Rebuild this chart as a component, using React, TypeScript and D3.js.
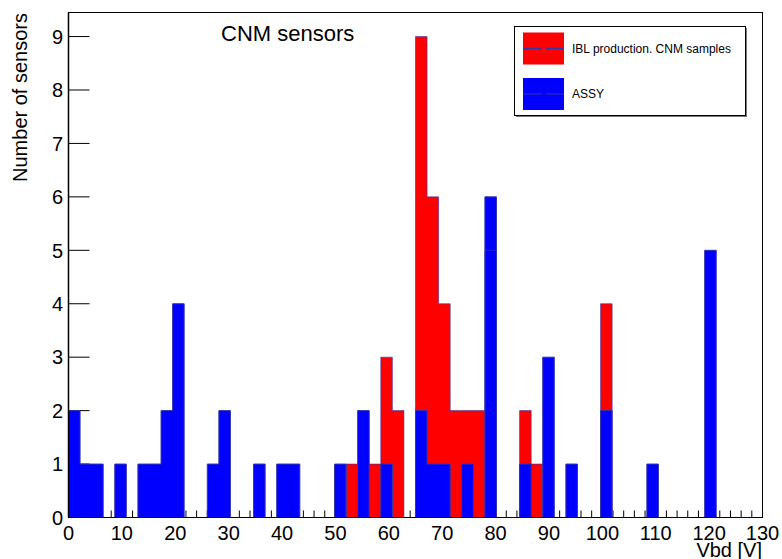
import React from "react";
import * as d3 from "d3";

// Histogram definition: 60 bins from 0 to 130 V
const xMin = 0;
const xMax = 130;
const nBins = 60;

// ASSY (blue) counts per bin
const assyCounts = [
  2, 1, 1, 0, 1, 0, 1, 1, 2, 4,
  0, 0, 1, 2, 0, 0, 1, 0, 1, 1,
  0, 0, 0, 1, 0, 2, 0, 1, 0, 0,
  2, 1, 1, 0, 1, 0, 6, 0, 0, 1,
  0, 3, 0, 1, 0, 0, 2, 0, 0, 0,
  1, 0, 0, 0, 0, 5, 0, 0, 0, 0,
];

// IBL production, CNM samples (red) counts per bin
const iblCounts = [
  0, 0, 0, 0, 0, 0, 0, 0, 0, 0,
  0, 0, 0, 0, 0, 0, 0, 0, 0, 0,
  0, 0, 0, 0, 1, 0, 1, 3, 2, 0,
  9, 6, 4, 2, 2, 2, 5, 0, 0, 2,
  1, 0, 0, 0, 0, 0, 4, 0, 0, 0,
  0, 0, 0, 0, 0, 0, 0, 0, 0, 0,
];

const yTicks = [0, 1, 2, 3, 4, 5, 6, 7, 8, 9];
const xMajorTicks = d3.range(0, 131, 10);
const xMinorTicks = d3.range(0, 131, 2);

const legendEntries = [
  { label: "IBL production. CNM samples", color: "#ff0000" },
  { label: "ASSY", color: "#0000ff" },
];

const W = 782;
const H = 559;
const left = 68.5;
const right = 762.5;
const top = 12.5;
const bottom = 517.5;
const yMax = 9 * 1.05;

const outline = "#3333aa";
const font = "'Liberation Sans', Arial, Helvetica, sans-serif";

export default function App() {
  const x = d3.scaleLinear().domain([xMin, xMax]).range([left, right]);
  const y = d3.scaleLinear().domain([0, yMax]).range([bottom, top]);
  const bw = (xMax - xMin) / nBins;

  const stepPath = (vals: number[], close: boolean) => {
    const p = d3.path();
    p.moveTo(x(xMin), y(0));
    vals.forEach((v, i) => {
      p.lineTo(x(xMin + i * bw), y(v));
      p.lineTo(x(xMin + (i + 1) * bw), y(v));
    });
    p.lineTo(x(xMax), y(0));
    if (close) p.closePath();
    return p.toString();
  };

  const lgX = 514.5;
  const lgY = 26.5;
  const lgW = 231;
  const lgH = 89;

  return (
    <svg
      width={W}
      height={H}
      style={{ position: "absolute", left: 0, top: 0, background: "#fff" }}
      fontFamily={font}
    >
      <rect x={0} y={0} width={W} height={H} fill="#fff" />

      {/* x ticks (drawn behind bars) */}
      {xMinorTicks.map((t) => (
        <line key={"mi" + t} x1={x(t)} x2={x(t)} y1={bottom} y2={bottom - 7} stroke="#000" strokeWidth={1} />
      ))}
      {xMajorTicks.map((t) => (
        <line key={"ma" + t} x1={x(t)} x2={x(t)} y1={bottom} y2={bottom - 14} stroke="#000" strokeWidth={1} />
      ))}
      {/* y ticks */}
      {yTicks.map((t) => (
        <line key={"yt" + t} x1={left} x2={left + 21} y1={y(t)} y2={y(t)} stroke="#000" strokeWidth={1} />
      ))}

      {/* histograms */}
      <path d={stepPath(iblCounts, true)} fill="#ff0000" stroke="none" />
      <path d={stepPath(assyCounts, true)} fill="#0000ff" stroke="none" />
      <path d={stepPath(iblCounts, false)} fill="none" stroke={outline} strokeWidth={1} strokeOpacity={0.6} />
      <path d={stepPath(assyCounts, false)} fill="none" stroke={outline} strokeWidth={1} />

      {/* frame */}
      <rect x={left} y={top} width={right - left} height={bottom - top} fill="none" stroke="#000" strokeWidth={1} />
      <line x1={left} x2={left} y1={top} y2={bottom} stroke="#000" strokeWidth={1.5} />

      {/* y tick labels */}
      {yTicks.map((t) => (
        <text key={"yl" + t} x={63} y={y(t)} dy="0.36em" textAnchor="end" fontSize={20} fill="#000">
          {t}
        </text>
      ))}
      {/* x tick labels */}
      {xMajorTicks.map((t) => (
        <text key={"xl" + t} x={x(t)} y={540} textAnchor="middle" fontSize={20} fill="#000">
          {t}
        </text>
      ))}

      {/* axis titles */}
      <text x={762} y={557} textAnchor="end" fontSize={20} fill="#000">
        Vbd [V]
      </text>
      <text
        transform={`translate(27,13) rotate(-90)`}
        textAnchor="end"
        fontSize={20}
        fill="#000"
      >
        Number of sensors
      </text>

      {/* title */}
      <text x={221} y={41} fontSize={22} fill="#000">
        CNM sensors
      </text>

      {/* legend */}
      <rect x={lgX + 1.5} y={lgY + 1.5} width={lgW} height={lgH} fill="#777" />
      <rect x={lgX} y={lgY} width={lgW} height={lgH} fill="#fff" stroke="#000" strokeWidth={1} />
      {legendEntries.map((e, i) => {
        const cy = 48.5 + i * 45.5;
        return (
          <g key={e.label}>
            <rect x={523} y={cy - 16} width={41} height={32} fill={e.color} />
            <line
              x1={523}
              x2={564}
              y1={cy}
              y2={cy}
              stroke={outline}
              strokeWidth={1.2}
              strokeDasharray="19 4"
            />
            <text x={572} y={cy} dy="0.36em" fontSize={12} fill="#000">
              {e.label}
            </text>
          </g>
        );
      })}
    </svg>
  );
}
